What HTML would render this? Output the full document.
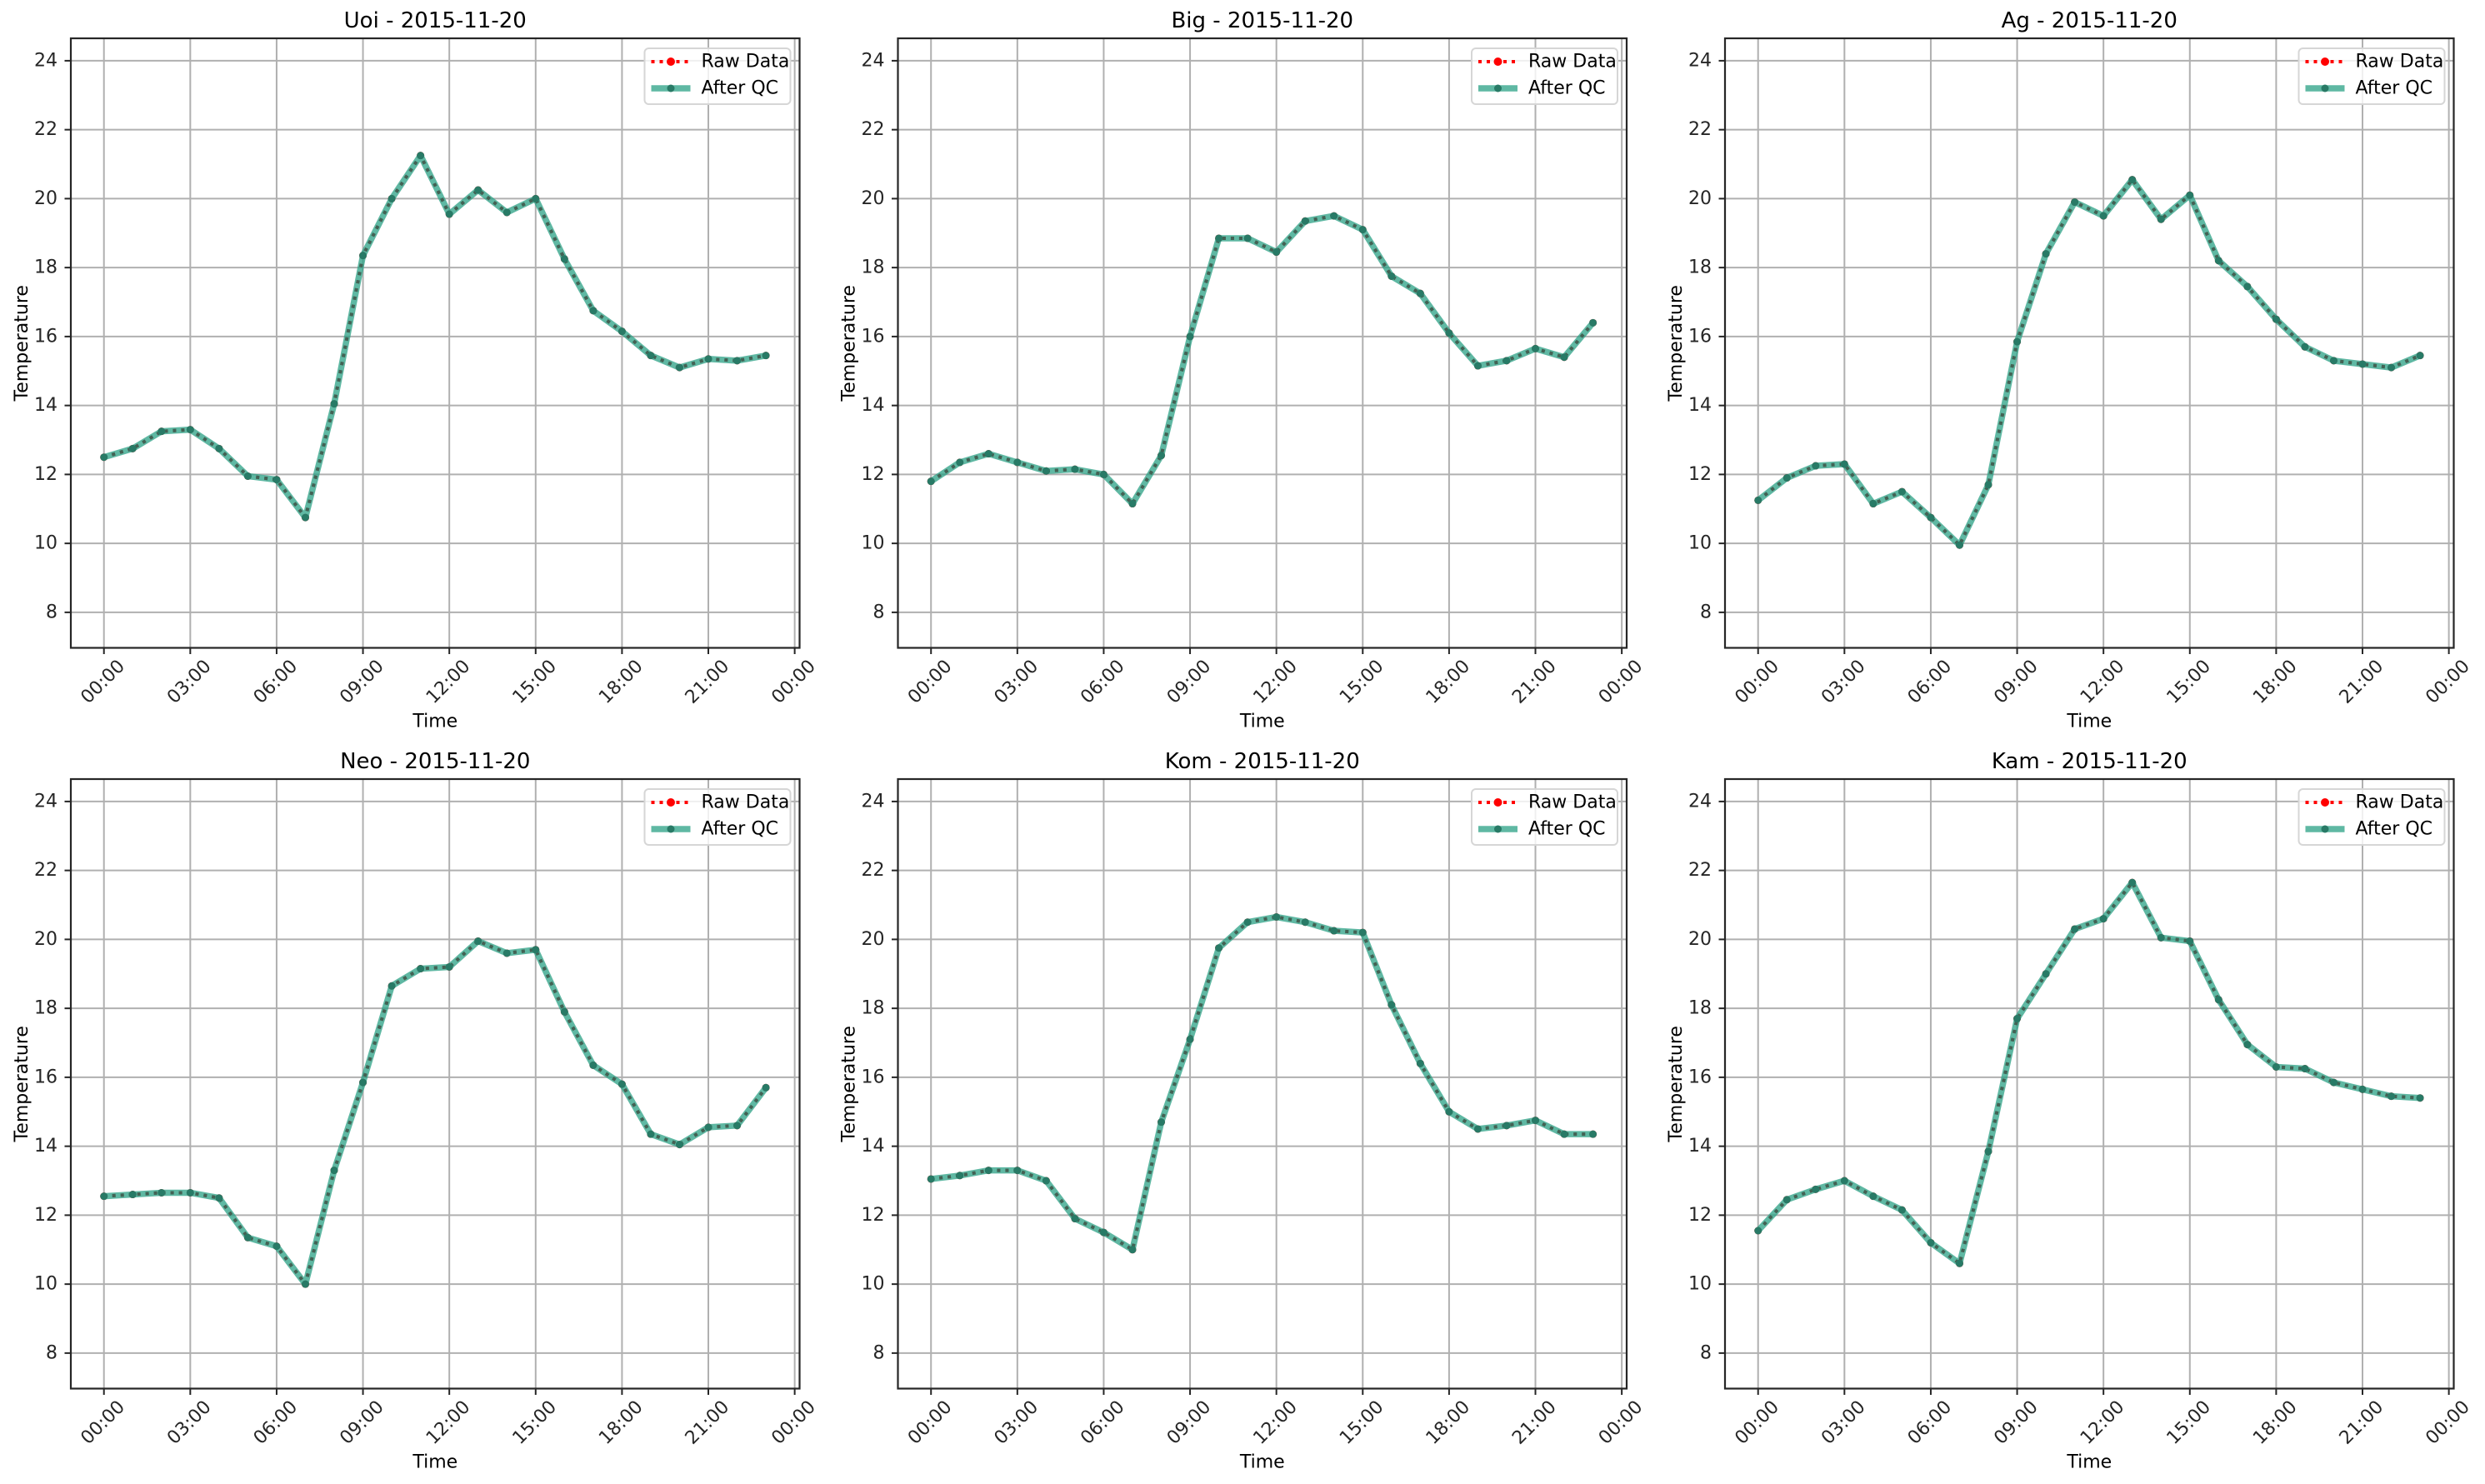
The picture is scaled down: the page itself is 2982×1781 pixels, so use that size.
<!DOCTYPE html>
<html><head><meta charset="utf-8"><style>
html,body{margin:0;padding:0;background:#fff;}
svg{display:block;font-family:"DejaVu Sans","Liberation Sans",sans-serif;}
</style></head><body>
<svg id="fig" width="2982" height="1781" viewBox="0 0 2982 1781" xmlns="http://www.w3.org/2000/svg"></svg>
<script>
const stations = ["Uoi","Big","Ag","Neo","Kom","Kam"];
const dateLabel = "2015-11-20";
const hours = [0,1,2,3,4,5,6,7,8,9,10,11,12,13,14,15,16,17,18,19,20,21,22,23];
const tempUoi = [12.5,12.75,13.25,13.3,12.75,11.95,11.85,10.75,14.05,18.35,20.0,21.25,19.55,20.25,19.6,20.0,18.25,16.75,16.15,15.45,15.1,15.35,15.3,15.45];
const tempBig = [11.8,12.35,12.6,12.35,12.1,12.15,12.0,11.15,12.55,16.0,18.85,18.85,18.45,19.35,19.5,19.1,17.75,17.25,16.1,15.15,15.3,15.65,15.4,16.4];
const tempAg = [11.25,11.9,12.25,12.3,11.15,11.5,10.75,9.95,11.7,15.85,18.4,19.9,19.5,20.55,19.4,20.1,18.2,17.45,16.5,15.7,15.3,15.2,15.1,15.45];
const tempNeo = [12.55,12.6,12.65,12.65,12.5,11.35,11.1,10.0,13.3,15.85,18.65,19.15,19.2,19.95,19.6,19.7,17.9,16.35,15.8,14.35,14.05,14.55,14.6,15.7];
const tempKom = [13.05,13.15,13.3,13.3,13.0,11.9,11.5,11.0,14.7,17.1,19.75,20.5,20.65,20.5,20.25,20.2,18.1,16.4,15.0,14.5,14.6,14.75,14.35,14.35];
const tempKam = [11.55,12.45,12.75,13.0,12.55,12.15,11.2,10.6,13.85,17.7,19.0,20.3,20.6,21.65,20.05,19.95,18.25,16.95,16.3,16.25,15.85,15.65,15.45,15.4];
const rawSeries = [tempUoi,tempBig,tempAg,tempNeo,tempKom,tempKam];
const qcSeries = [tempUoi,tempBig,tempAg,tempNeo,tempKom,tempKam];
const yTicks = [8,10,12,14,16,18,20,22,24];
const xTicks = [0,3,6,9,12,15,18,21,24];
const xTickLabels = ["00:00","03:00","06:00","09:00","12:00","15:00","18:00","21:00","00:00"];
const yMin = 6.97, yMax = 24.65, xMin = -1.15, xMax = 24.17;

const NS = "http://www.w3.org/2000/svg";
const svg = document.getElementById('fig');
function mk(tag, attrs, parent){
  const e = document.createElementNS(NS, tag);
  for (const k in attrs) e.setAttribute(k, attrs[k]);
  (parent||svg).appendChild(e);
  return e;
}
const colLeft = [85, 1077.5, 2070];
const rowTop = [46, 935];
const W = 874.5, H = 731.5;

stations.forEach((st, i) => {
  const L = colLeft[i%3], T = rowTop[Math.floor(i/3)], R = L+W, B = T+H;
  const sx = v => L + (v - xMin)/(xMax - xMin)*W;
  const sy = v => B - (v - yMin)/(yMax - yMin)*H;
  const g = mk('g', {});
  
  
  yTicks.forEach(v => {
    const l = mk('line', {x1:L, x2:R, y1:sy(v), y2:sy(v), stroke:'#b0b0b0', 'stroke-width':2}, g);
    
    
  });
  xTicks.forEach(v => {
    const l = mk('line', {x1:sx(v), x2:sx(v), y1:T, y2:B, stroke:'#b0b0b0', 'stroke-width':2}, g);
    
    
  });
  const rawPts = hours.map((h,k)=> sx(h)+','+sy(rawSeries[i][k])).join(' ');
  const raw = mk('polyline', {points:rawPts, fill:'none', stroke:'#ff0000', 'stroke-width':4, 'stroke-dasharray':'4 6', 'stroke-linejoin':'round'}, g);
  
  
  hours.forEach((h,k)=>{
    const c = mk('circle', {cx:sx(h), cy:sy(rawSeries[i][k]), r:4.5, fill:'#ff0000'}, g);
    
    
  });
  const qcPts = hours.map((h,k)=> sx(h)+','+sy(qcSeries[i][k])).join(' ');
  const qc = mk('polyline', {points:qcPts, fill:'none', stroke:'#2aa084', 'stroke-opacity':0.75, 'stroke-width':7.5, 'stroke-linejoin':'round'}, g);
  
  
  const dots = mk('polyline', {points:qcPts, fill:'none', stroke:'#36584f', 'stroke-opacity':0.7, 'stroke-width':4, 'stroke-dasharray':'4 6'}, g);
  
  
  hours.forEach((h,k)=>{
    const c = mk('circle', {cx:sx(h), cy:sy(qcSeries[i][k]), r:4.5, fill:'#287a66'}, g);
    
    
  });
  const fr = mk('rect', {x:L, y:T, width:W, height:H, fill:'none', stroke:'#262626', 'stroke-width':2.2}, g);
  
  
  yTicks.forEach(v => {
    mk('line', {x1:L-7.5, x2:L, y1:sy(v), y2:sy(v), stroke:'#262626', 'stroke-width':2}, g);
    const t = mk('text', {x:L-16, y:sy(v), 'text-anchor':'end', 'dominant-baseline':'central', 'font-size':22, fill:'#262626'}, g);
    t.textContent = v;
    
    
  });
  xTicks.forEach((v,k) => {
    mk('line', {x1:sx(v), x2:sx(v), y1:B, y2:B+7.5, stroke:'#262626', 'stroke-width':2}, g);
    const cx = sx(v)-1, cy = B+41;
    const t = mk('text', {x:cx, y:cy, 'text-anchor':'middle', 'dominant-baseline':'central', 'font-size':22, fill:'#262626', transform:'rotate(-45 '+cx+' '+cy+')'}, g);
    t.textContent = xTickLabels[k];
    
    
  });
  const xl = mk('text', {x:(L+R)/2, y:B+95, 'text-anchor':'middle', 'font-size':22, fill:'#000'}, g);
  xl.textContent = 'Time';
  
  
  const yx = L-52, yy = (T+B)/2;
  const yl = mk('text', {x:yx, y:yy, 'text-anchor':'middle', 'font-size':22, fill:'#000', transform:'rotate(-90 '+yx+' '+yy+')'}, g);
  yl.textContent = 'Temperature';
  
  
  const ti = mk('text', {x:(L+R)/2, y:T-13, 'text-anchor':'middle', 'font-size':26, fill:'#000'}, g);
  ti.textContent = st + ' - ' + dateLabel;
  
  
  const lg = mk('g', {}, g);
  
  
  const lx = R-186, ly = T+12;
  mk('rect', {x:lx, y:ly, width:175, height:67, rx:5, fill:'#fff', 'fill-opacity':0.8, stroke:'#d6d6d6', 'stroke-width':2}, lg);
  const e1 = mk('g', {}, lg);
  
  
  mk('line', {x1:lx+8, x2:lx+55, y1:ly+16, y2:ly+16, stroke:'#ff0000', 'stroke-width':4, 'stroke-dasharray':'4 6'}, e1);
  mk('circle', {cx:lx+31.5, cy:ly+16, r:5, fill:'#ff0000'}, e1);
  const t1 = mk('text', {x:lx+68, y:ly+16, 'dominant-baseline':'central', 'font-size':22, fill:'#000'}, e1);
  t1.textContent = 'Raw Data';
  const e2 = mk('g', {}, lg);
  
  
  mk('line', {x1:lx+8, x2:lx+55, y1:ly+48, y2:ly+48, stroke:'#2aa084', 'stroke-opacity':0.75, 'stroke-width':7.5}, e2);
  mk('circle', {cx:lx+31.5, cy:ly+48, r:4.5, fill:'#287a66'}, e2);
  const t2 = mk('text', {x:lx+68, y:ly+48, 'dominant-baseline':'central', 'font-size':22, fill:'#000'}, e2);
  t2.textContent = 'After QC';
});
</script>
</body></html>
